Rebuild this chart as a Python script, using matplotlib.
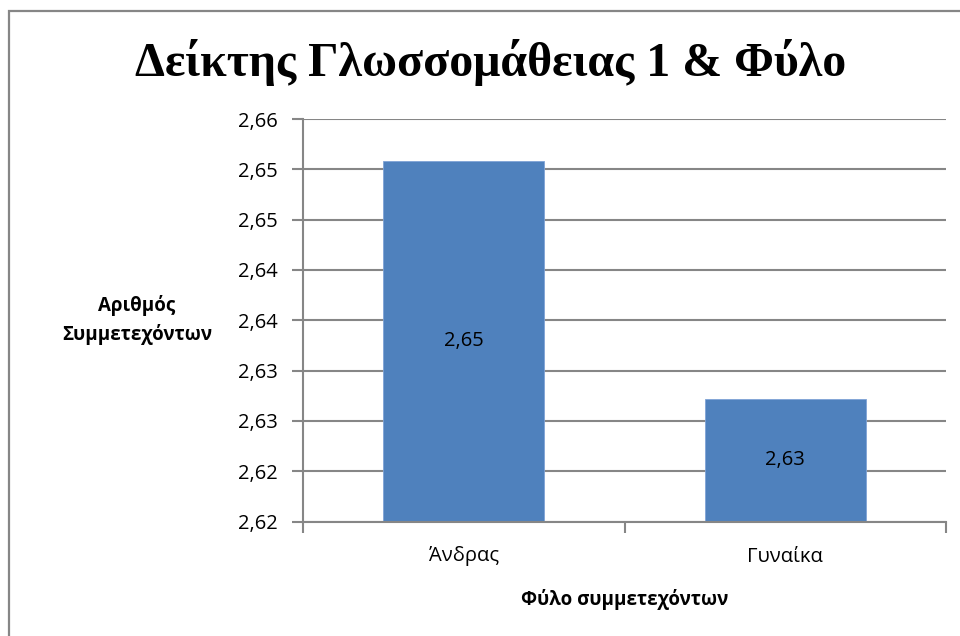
import math
import matplotlib
matplotlib.use("Agg")
import matplotlib.pyplot as plt
from matplotlib.patches import Rectangle

# Data
categories = ["Άνδρας", "Γυναίκα"]
values = [2.6558, 2.6322]
y_ticks = [2.62, 2.625, 2.63, 2.635, 2.64, 2.645, 2.65, 2.655, 2.66]
y_tick_labels = ["2,62", "2,62", "2,63", "2,63", "2,64", "2,64", "2,65", "2,65", "2,66"]

title = "Δείκτης Γλωσσομάθειας 1 & Φύλο"
x_title = "Φύλο συμμετεχόντων"
y_title = "Αριθμός\nΣυμμετεχόντων"

bar_color = "#4F81BD"
grid_color = "#868686"
sans = ["Open Sans", "Noto Sans", "DejaVu Sans"]

fig = plt.figure(figsize=(9.6, 6.36), dpi=100)
fig.patch.set_facecolor("white")

# outer chart frame (runs off the right and bottom edges)
frame_top = 1 - 10.5 / 636
fig.patches.append(Rectangle((8.5 / 960, -0.2), 1.2, frame_top + 0.2,
                             transform=fig.transFigure, fill=False,
                             edgecolor=grid_color, linewidth=1.6, zorder=0))

ax = fig.add_axes([303 / 960, 1 - 521.5 / 636, (946 - 303) / 960, (521.5 - 119) / 636])

x = list(range(len(categories)))
bars = ax.bar(x, values, width=0.5, color=bar_color, edgecolor="#7FA3D6",
              linewidth=0.6, zorder=3)

ax.set_xlim(-0.5, len(categories) - 0.5)
ax.set_ylim(y_ticks[0], y_ticks[-1])

ax.set_yticks(y_ticks)
ax.set_yticklabels(y_tick_labels, fontsize=14.5, family=sans)
ax.yaxis.grid(True, color=grid_color, linewidth=1.5, zorder=1)
ax.set_axisbelow(True)

# category labels in the middle, tick marks on category boundaries
ax.set_xticks(x)
ax.set_xticklabels(categories, fontsize=14.5, family=sans)
ax.tick_params(axis="x", which="major", length=0, pad=18)
ax.set_xticks([-0.5 + i for i in range(len(categories) + 1)], minor=True)
ax.tick_params(axis="x", which="minor", length=8, width=1.5, color=grid_color, direction="out")
ax.tick_params(axis="y", length=8, width=1.5, color=grid_color, direction="out", pad=10)

for side in ("top", "right"):
    ax.spines[side].set_visible(False)
for side in ("left", "bottom"):
    ax.spines[side].set_color(grid_color)
    ax.spines[side].set_linewidth(1.5)
    ax.spines[side].set_zorder(4)

# value labels centred inside the bars (two decimals, truncated)
lo = y_ticks[0]
for xi, v in zip(x, values):
    txt = f"{math.floor(v * 100) / 100:.2f}".replace(".", ",")
    ax.text(xi, (lo + v) / 2, txt, ha="center", va="center", fontsize=14.5,
            family=sans, color="black", zorder=5)

fig.text(491 / 960, 1 - 62 / 636, title, ha="center", va="center",
         fontsize=34.5, fontweight="bold", family=["Liberation Serif", "DejaVu Serif"])
fig.text(624.5 / 960, 1 - 600 / 636, x_title, ha="center", va="center",
         fontsize=13.5, fontweight="bold", family=sans)
fig.text(137 / 960, 1 - 320 / 636, y_title, ha="center", va="center",
         fontsize=13.5, fontweight="bold", family=sans, linespacing=1.45)

fig.savefig("out.png", dpi=100)
